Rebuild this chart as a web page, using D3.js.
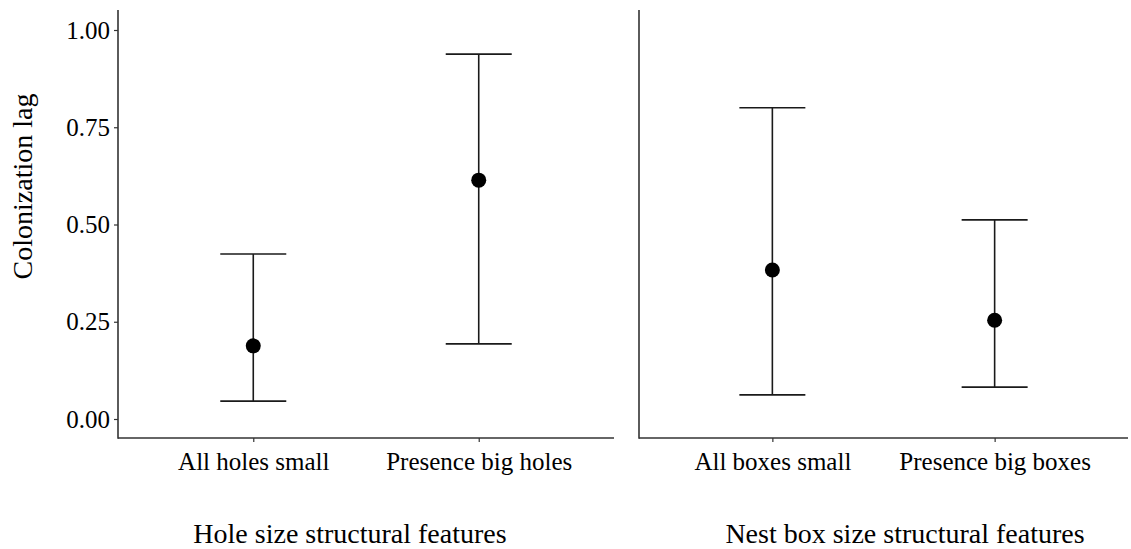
<!DOCTYPE html>
<html>
<head>
<meta charset="utf-8">
<script src="https://cdn.jsdelivr.net/npm/d3@7"></script>
<style>
  body { margin: 0; background: #fff; }
  text { font-family: "Liberation Serif", "Times New Roman", serif; fill: #000; }
</style>
</head>
<body>
<script>
// panel data
const holeCats = ["All holes small", "Presence big holes"];
const holeMean = [0.188, 0.614];
const holeLow = [0.046, 0.193];
const holeHigh = [0.424, 0.938];

const boxCats = ["All boxes small", "Presence big boxes"];
const boxMean = [0.383, 0.254];
const boxLow = [0.062, 0.082];
const boxHigh = [0.800, 0.512];

const yTicks = [0, 0.25, 0.5, 0.75, 1];

const width = 1131, height = 549;

const svg = d3.select("body").append("svg")
  .attr("width", width)
  .attr("height", height);

const y = d3.scaleLinear().domain([0, 1]).range([419, 30]);
const axisY = 438, topY = 10;

function panel(x0, x1, cats, mean, low, high, title, titleX, showY) {
  const x = d3.scalePoint().domain(cats).range([x0, x1]).padding(0.6);
  const g = svg.append("g");

  // axes lines
  g.append("line").attr("x1", x0).attr("x2", x0).attr("y1", topY).attr("y2", axisY + 0.75)
    .attr("stroke", "#333").attr("stroke-width", 1.6);
  g.append("line").attr("x1", x0).attr("x2", x1).attr("y1", axisY).attr("y2", axisY)
    .attr("stroke", "#333").attr("stroke-width", 1.6);

  // x ticks + labels
  const xa = g.append("g").attr("transform", `translate(0,${axisY})`)
    .call(d3.axisBottom(x).tickSize(4).tickPadding(10));
  xa.select(".domain").remove();
  xa.selectAll("line").attr("stroke", "#333").attr("stroke-width", 1.2);
  xa.selectAll("text").style("font-size", "25px").attr("fill", "#1a1a1a")
    .style("font-family", '"Liberation Serif", serif');

  if (showY) {
    const ya = g.append("g").attr("transform", `translate(${x0},0)`)
      .call(d3.axisLeft(y).tickValues(yTicks).tickFormat(d3.format(".2f")).tickSize(4).tickPadding(4));
    ya.select(".domain").remove();
    ya.selectAll("line").attr("stroke", "#333").attr("stroke-width", 1.2);
    ya.selectAll("text").style("font-size", "25px").attr("fill", "#1a1a1a")
      .style("font-family", '"Liberation Serif", serif');
  }

  const rows = cats.map((c, i) => ({c, m: mean[i], lo: low[i], hi: high[i]}));
  const cap = 33;

  g.selectAll(".stem").data(rows).join("line")
    .attr("x1", d => x(d.c)).attr("x2", d => x(d.c))
    .attr("y1", d => y(d.hi)).attr("y2", d => y(d.lo))
    .attr("stroke", "#1a1a1a").attr("stroke-width", 1.6);
  g.selectAll(".capHi").data(rows).join("line")
    .attr("x1", d => x(d.c) - cap).attr("x2", d => x(d.c) + cap)
    .attr("y1", d => y(d.hi)).attr("y2", d => y(d.hi))
    .attr("stroke", "#1a1a1a").attr("stroke-width", 1.6);
  g.selectAll(".capLo").data(rows).join("line")
    .attr("x1", d => x(d.c) - cap).attr("x2", d => x(d.c) + cap)
    .attr("y1", d => y(d.lo)).attr("y2", d => y(d.lo))
    .attr("stroke", "#1a1a1a").attr("stroke-width", 1.6);
  g.selectAll("circle").data(rows).join("circle")
    .attr("cx", d => x(d.c)).attr("cy", d => y(d.m)).attr("r", 7.5)
    .attr("fill", "#000");

  g.append("text").attr("x", titleX).attr("y", 543)
    .attr("text-anchor", "middle").style("font-size", "28px").attr("fill", "#1a1a1a")
    .text(title);
}

panel(118, 614, holeCats, holeMean, holeLow, holeHigh, "Hole size structural features", 350, true);
panel(639, 1128, boxCats, boxMean, boxLow, boxHigh, "Nest box size structural features", 905, false);

svg.append("text")
  .attr("transform", `translate(32,${(30 + 419) / 2 - 38}) rotate(-90)`)
  .attr("text-anchor", "middle").style("font-size", "28px").attr("fill", "#1a1a1a")
  .text("Colonization lag");
</script>
</body>
</html>
